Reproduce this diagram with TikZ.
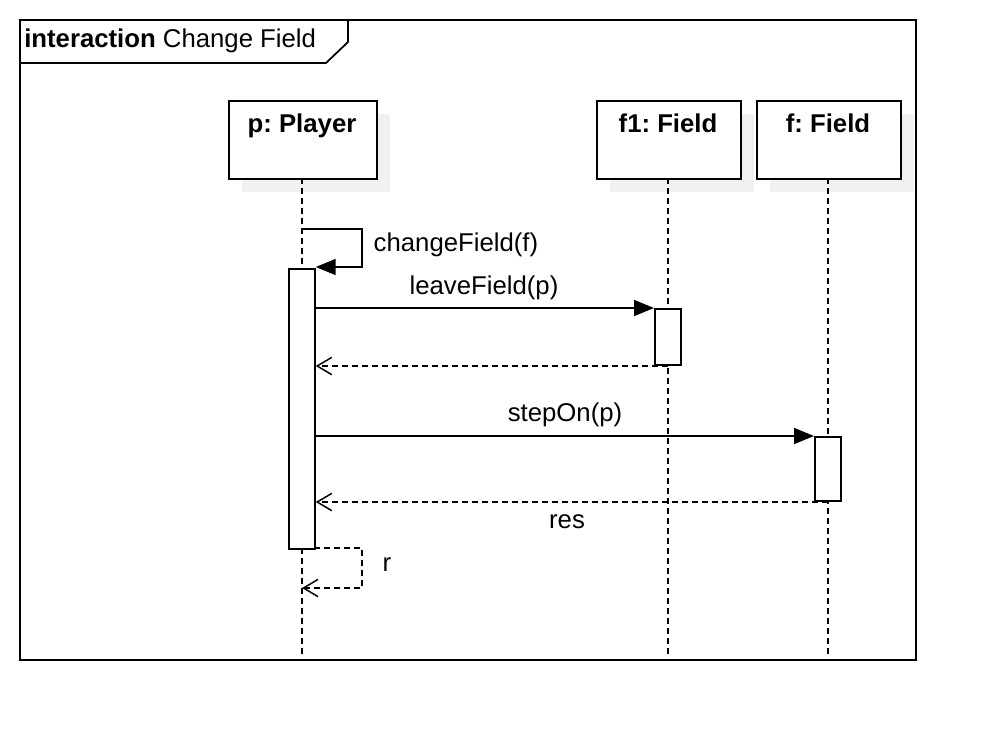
\documentclass[tikz,border=0pt]{standalone}
\usepackage{fontspec}
\setmainfont{Liberation Sans}
\usetikzlibrary{arrows.meta}
\begin{document}
\frenchspacing
\begin{tikzpicture}[x=0.75pt,y=-0.75pt,
  every node/.style={font=\fontsize{19.3}{23}\selectfont},
  bfnode/.style={font=\bfseries\fontsize{19.3}{23}\selectfont,anchor=base},
  ln/.style={line width=1.3pt,black},
  life/.style={line width=1.3pt,dash pattern=on 4.5pt off 3pt},
  obj/.style={draw,line width=1.3pt,fill=white,minimum width=111pt,minimum height=58.5pt,inner sep=0pt},
  shad/.style={fill=black!6,draw=none},
  actbar/.style={draw,line width=1.3pt,fill=white,minimum width=19.5pt,inner sep=0pt},
  call/.style={ln,-{Triangle[length=15pt,width=12pt]}},
  ret/.style={line width=1.3pt,dash pattern=on 4.5pt off 3pt,-{Straight Barb[length=11pt,width=13pt,line width=1.1pt]}}
]
\useasboundingbox (0,0) rectangle (996,740);
% frame
\draw[ln] (20,20) rectangle (916,660);
\draw[ln] (20,63) -- (326,63) -- (348,42) -- (348,20);
\node[anchor=west,inner sep=0pt] (title) at (24,41) {\textbf{interaction} Change Field};
% shadows
\fill[shad] (242,114) rectangle (390,192);
\fill[shad] (610,114) rectangle (754,192);
\fill[shad] (770,114) rectangle (914,192);
% lifelines
\draw[life] (302,178) -- (302,656);
\draw[life] (668,178) -- (668,656);
\draw[life] (828,178) -- (828,656);
% objects
\node[obj,anchor=north west] (p) at (228,100) {};
\node[bfnode] (pl) at (302,132) {p: Player};
\node[obj,minimum width=108pt,anchor=north west] (f1) at (596,100) {};
\node[bfnode] (f1l) at (668,132) {f1: Field};
\node[obj,minimum width=108pt,anchor=north west] (f) at (756,100) {};
\node[bfnode] (fl) at (828,132) {f: Field};
% activations
\node[actbar,minimum height=210pt,anchor=north west] (ap) at (288,268) {};
\node[actbar,minimum height=42pt,anchor=north west] (af1) at (654,308) {};
\node[actbar,minimum height=48pt,anchor=north west] (af) at (814,436) {};
% self call
\coordinate (s1) at (302,229);
\draw[call] (s1) -- (362,229) -- (362,267) -- (ap.north east |- 0,267);
\node[anchor=west] (lcf) at (369,245) {changeField(f)};
% leaveField
\draw[call] (ap.north east |- af1.north west) -- (af1.north west);
\node (llf) at (484,288) {leaveField(p)};
\coordinate (r1) at (668,366);
\draw[ret] (r1) -- (ap.east |- r1);
% stepOn
\draw[call] (ap.east |- af.north west) -- (af.north west);
\node (lso) at (565,415) {stepOn(p)};
\coordinate (r2) at (828,502);
\draw[ret] (r2) -- (ap.east |- r2);
\node (lres) at (567,522) {res};
% r
\coordinate (r3) at (302,588);
\coordinate (r0) at (314,548);
\draw[ret] (r0) -- (362,548) -- (362,588) -- (r3);
\node (lr) at (387,565) {r};
\end{tikzpicture}
\end{document}
